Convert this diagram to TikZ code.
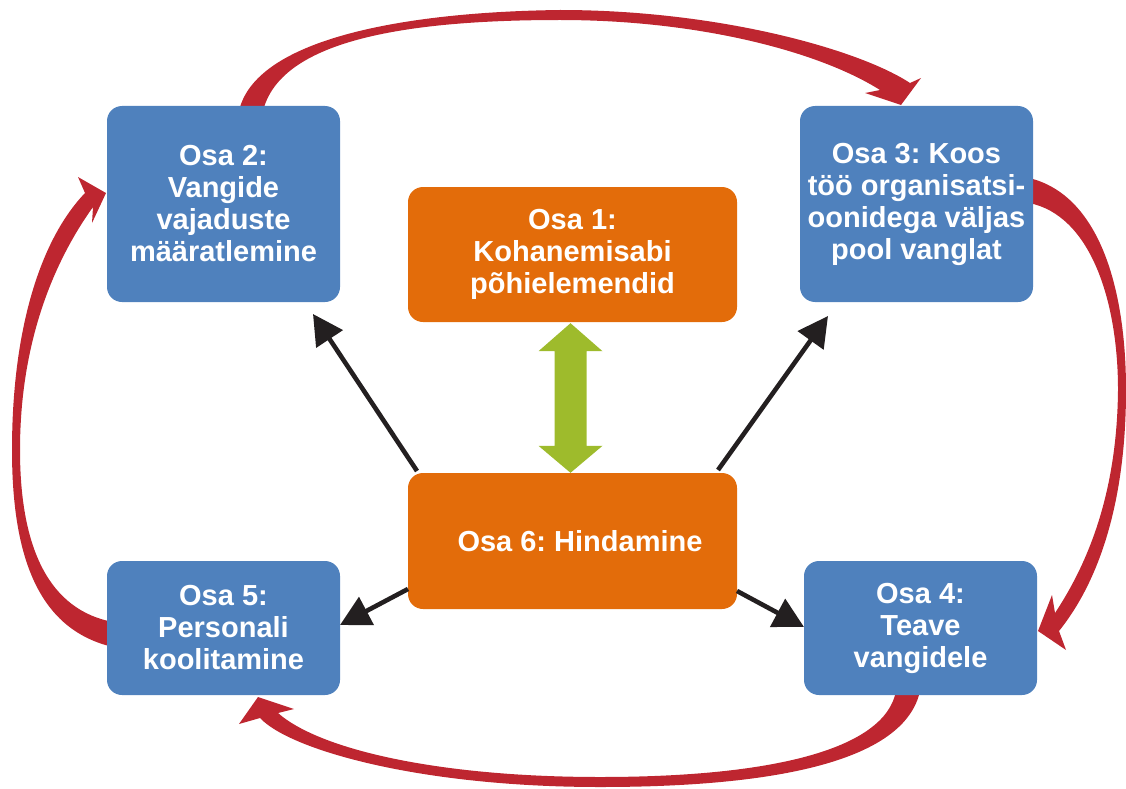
\documentclass[tikz,border=0pt]{standalone}
\usepackage{fontspec}
\setmainfont{Liberation Sans}
\usetikzlibrary{arrows.meta,calc}
\definecolor{boxblue}{RGB}{79,129,189}
\definecolor{boxorange}{RGB}{227,108,10}
\definecolor{arrgreen}{RGB}{158,187,44}
\definecolor{arrred}{RGB}{190,38,48}
\definecolor{arrblack}{RGB}{35,31,32}
\frenchspacing
\begin{document}
\begin{tikzpicture}[x=1pt,y=-1pt,
  box/.style={rounded corners=15pt, minimum width=233pt, inner sep=0pt, align=center, text=white,
    font=\fontsize{29}{32}\bfseries\selectfont},
  bluebox/.style={box, fill=boxblue},
  orangebox/.style={box, fill=boxorange},
  blackarrow/.style={draw=arrblack, line width=4.6pt, -{Triangle[length=30pt,width=31pt]}},
  redarrow/.style={fill=arrred}]
\useasboundingbox (0,0) rectangle (1126,789);

% red cycle arrows (drawn first, boxes on top)
% top: box 2 -> box 3
\fill[redarrow] (239,111) .. controls (255,40) and (400,12) .. (560,10)
  .. controls (720,10) and (860,50) .. (910,83)
  -- (921,78) -- (901,105) -- (865,93) -- (880,90)
  .. controls (820,52) and (700,20) .. (560,20)
  .. controls (400,20) and (280,42) .. (263,111) -- cycle;
% right: box 3 -> box 4
\fill[redarrow] (1029,178) .. controls (1100,195) and (1126,290) .. (1126,390)
  .. controls (1126,500) and (1100,580) .. (1059,631)
  -- (1066,650) -- (1038,631) -- (1052,595) -- (1055,613)
  .. controls (1090,560) and (1117,490) .. (1118,390)
  .. controls (1118,300) and (1090,215) .. (1029,203) -- cycle;
% bottom: box 4 -> box 5
\fill[redarrow] (920,691) .. controls (905,760) and (780,787) .. (600,787)
  .. controls (420,787) and (290,750) .. (260,718)
  -- (239,724) -- (258,697) -- (294,709) -- (278,713)
  .. controls (320,750) and (440,777) .. (600,777)
  .. controls (770,777) and (885,750) .. (896,691) -- cycle;
% left: box 5 -> box 2
\fill[redarrow] (113,647) .. controls (40,630) and (12,560) .. (12,450)
  .. controls (12,330) and (40,240) .. (85,193)
  -- (78,177) -- (106,193) -- (92,223) -- (93,207)
  .. controls (55,260) and (20,340) .. (20,450)
  .. controls (20,550) and (50,610) .. (113,622) -- cycle;

% boxes
\node[bluebox, minimum height=196pt] (o2) at (223.5,204) {Osa 2:\\Vangide\\vajaduste\\määratlemine};
\node[bluebox, minimum height=196pt] (o3) at (916.5,204) {Osa 3: Koos\\töö organisatsi-\\oonidega väljas\\pool vanglat};
\node[orangebox, minimum width=329pt, minimum height=135pt] (o1) at (572.5,254.5) {Osa 1:\\Kohanemisabi\\põhielemendid};
\node[orangebox, minimum width=329pt, minimum height=136pt] (o6) at (572.5,541) {\hspace*{15pt}Osa 6: Hindamine};
\node[bluebox, minimum height=134pt] (o5) at (223.5,628) {Osa 5:\\Personali\\koolitamine};
\node[bluebox, minimum height=134pt] (o4) at (920.5,628) {Osa 4:\\Teave\\vangidele};

% green double arrow between Osa 1 and Osa 6
\path (o1.south) ++(-2,1) coordinate (gt);
\path (o6.north) ++(-2,0) coordinate (gb);
\fill[arrgreen] (gt) -- ++(32,28) -- ++(-16,0) -- ($(gb)+(16,-27)$) -- ++(16,0) -- (gb)
  -- ++(-32,-27) -- ++(16,0) -- ($(gt)+(-16,28)$) -- ++(-16,0) -- cycle;

% black arrows from Osa 6
\coordinate (a1s) at (417,471); \coordinate (a1e) at (313,314);
\coordinate (a2s) at (718,470); \coordinate (a2e) at (828,316);
\coordinate (a3s) at (408,589); \coordinate (a3e) at (340,625);
\coordinate (a4s) at (737,591); \coordinate (a4e) at (804,627);
\draw[blackarrow] (a1s) -- (a1e);
\draw[blackarrow] (a2s) -- (a2e);
\draw[blackarrow] (a3s) -- (a3e);
\draw[blackarrow] (a4s) -- (a4e);
\end{tikzpicture}
\end{document}
